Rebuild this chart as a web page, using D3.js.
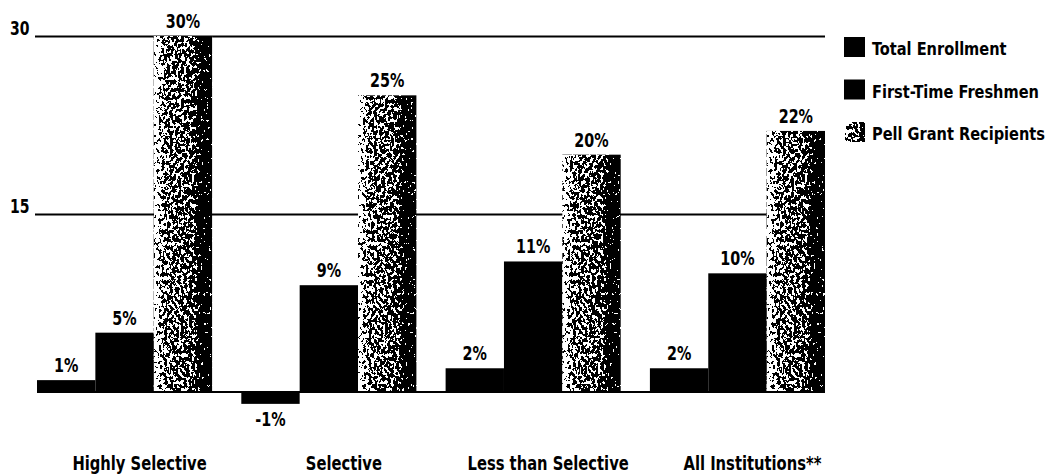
<!DOCTYPE html>
<html>
<head>
<meta charset="utf-8">
<script src="https://cdn.jsdelivr.net/npm/d3@7"></script>
<style>
  html, body { margin: 0; padding: 0; background: #fff; }
  svg { display: block; }
  text { font-family: "DejaVu Sans Condensed", "DejaVu Sans", sans-serif; font-weight: bold; fill: #000; }
</style>
</head>
<body>
<svg id="chart" width="1052" height="475"></svg>
<script>
// Percent change by institution selectivity
const categories = ["Highly Selective", "Selective", "Less than Selective", "All Institutions**"];
const seriesNames = ["Total Enrollment", "First-Time Freshmen", "Pell Grant Recipients"];
const totalEnrollment = [1, -1, 2, 2];
const firstTimeFreshmen = [5, 9, 11, 10];
const pellRecipients = [30, 25, 20, 22];
const yTicks = [15, 30];

const seriesValues = [totalEnrollment, firstTimeFreshmen, pellRecipients];
const rows = categories.map((c, i) => ({
  category: c,
  values: seriesNames.map((s, j) => ({ series: s, index: j, value: seriesValues[j][i] }))
}));

const svg = d3.select("#chart");
const defs = svg.append("defs");

// Light-to-dark ramp across each Pell bar; the grain filter turns it into speckle
const ramp = defs.append("linearGradient").attr("id", "pellRamp")
  .attr("x1", 0).attr("x2", 1).attr("y1", 0).attr("y2", 0);
[[0, 0.97], [0.08, 0.7], [0.2, 0.46], [0.55, 0.41], [0.7, 0.34], [0.8, 0.0], [1, 0.0]]
  .forEach(([o, l]) => {
    const g = Math.round(l * 255);
    ramp.append("stop").attr("offset", o).attr("stop-color", `rgb(${g},${g},${g})`);
  });

const grain = defs.append("filter").attr("id", "grain")
  .attr("x", 0).attr("y", 0).attr("width", 1).attr("height", 1)
  .attr("color-interpolation-filters", "sRGB");
grain.append("feTurbulence").attr("type", "fractalNoise")
  .attr("baseFrequency", "0.36 0.26").attr("numOctaves", 3).attr("seed", 5).attr("result", "noise");
grain.append("feColorMatrix").attr("in", "noise").attr("type", "matrix")
  .attr("values", "1 0 0 0 0  1 0 0 0 0  1 0 0 0 0  0 0 0 0 1").attr("result", "n");
grain.append("feComposite").attr("in", "SourceGraphic").attr("in2", "n")
  .attr("operator", "arithmetic").attr("k1", 0).attr("k2", 1).attr("k3", 2.4).attr("k4", -1.2)
  .attr("result", "mix");
const ct = grain.append("feComponentTransfer").attr("in", "mix").attr("result", "bw");
["feFuncR", "feFuncG", "feFuncB"].forEach(f => ct.append(f).attr("type", "discrete").attr("tableValues", "0 1"));
ct.append("feFuncA").attr("type", "linear").attr("slope", 0).attr("intercept", 1);
grain.append("feComposite").attr("in", "bw").attr("in2", "SourceAlpha").attr("operator", "in");

// Draws a horizontally condensed label anchored at (data-x, data-y)
function condensed(sel, sx) {
  sel.attr("transform", function () {
    const t = d3.select(this);
    const x = +t.attr("data-x"), yy = +t.attr("data-y");
    return `translate(${x},${yy}) scale(${sx},1)`;
  });
}

// Scales
const plotLeft = 37, plotRight = 825;
const x0 = d3.scaleBand().domain(categories).range([plotLeft, plotRight]).paddingInner(0.143).paddingOuter(0);
const x1 = d3.scaleBand().domain(seriesNames).range([0, x0.bandwidth()]).padding(0);
const y = d3.scaleLinear().domain([0, 30]).range([392, 36]);

// Gridlines with tick labels
const axis = d3.axisLeft(y).tickValues(yTicks).tickSize(-(plotRight - 35)).tickFormat(d3.format("d"));
const gAxis = svg.append("g").attr("transform", "translate(35,0)").call(axis);
gAxis.select(".domain").remove();
gAxis.selectAll(".tick line").attr("stroke", "#000").attr("stroke-width", 2);
gAxis.selectAll(".tick text")
  .attr("x", null).attr("dy", null)
  .attr("data-x", -25).attr("data-y", -2)
  .attr("text-anchor", "start")
  .style("font-size", "19px").style("font-family", null).attr("fill", "#000")
  .call(condensed, 0.82);

// Bars
const groups = svg.append("g").selectAll("g").data(rows).join("g")
  .attr("transform", d => `translate(${x0(d.category)},0)`);

groups.selectAll("rect").data(d => d.values).join("rect")
  .attr("x", d => x1(d.series))
  .attr("width", x1.bandwidth())
  .attr("y", d => y(Math.max(0, d.value)))
  .attr("height", d => Math.abs(y(d.value) - y(0)))
  .attr("fill", d => d.index === 2 ? "url(#pellRamp)" : "#000")
  .attr("filter", d => d.index === 2 ? "url(#grain)" : null);

// Value labels
groups.selectAll("text.val").data(d => d.values).join("text")
  .attr("class", "val")
  .attr("data-x", d => x1(d.series) + x1.bandwidth() / 2)
  .attr("data-y", d => d.value >= 0 ? y(d.value) - 8 : y(d.value) + 22)
  .attr("text-anchor", "middle")
  .style("font-size", "19px")
  .text(d => `${d.value}%`)
  .call(condensed, 0.84);

// Baseline
svg.append("line")
  .attr("x1", plotLeft).attr("x2", plotRight)
  .attr("y1", y(0)).attr("y2", y(0))
  .attr("stroke", "#000").attr("stroke-width", 2);

// Category labels
svg.append("g").selectAll("text").data(categories).join("text")
  .attr("data-x", d => x0(d) + x0.bandwidth() / 2 + 15)
  .attr("data-y", 470)
  .attr("text-anchor", "middle")
  .style("font-size", "20px")
  .text(d => d)
  .call(condensed, 0.82);

// Legend
const legend = svg.append("g").attr("transform", "translate(844,37)");
const item = legend.selectAll("g").data(seriesNames).join("g")
  .attr("transform", (d, i) => `translate(0,${i * 42.5})`);
item.append("rect")
  .attr("width", 21).attr("height", 20)
  .attr("fill", (d, i) => i === 2 ? "url(#pellRamp)" : "#000")
  .attr("filter", (d, i) => i === 2 ? "url(#grain)" : null);
item.append("text")
  .attr("data-x", 28).attr("data-y", 18)
  .style("font-size", "18px")
  .text(d => d)
  .call(condensed, 0.9);
</script>
</body>
</html>
